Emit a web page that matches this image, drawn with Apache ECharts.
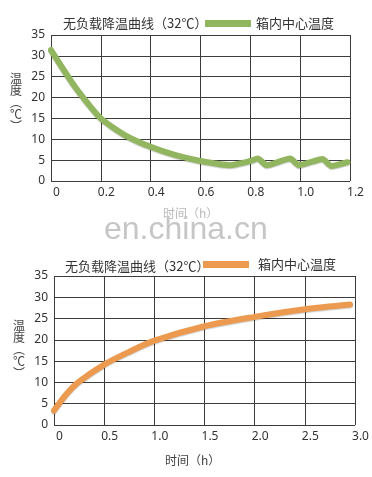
<!DOCTYPE html>
<html><head><meta charset="utf-8">
<script src="https://cdn.jsdelivr.net/npm/echarts@6/dist/echarts.min.js"></script>
<style>html,body{margin:0;padding:0;background:#fff}#c{width:372px;height:477px}</style>
</head><body><div id="c"></div>
<script>
var titleText = '无负载降温曲线（32℃）';
var seriesName = '箱内中心温度';
var yName = '温\n度\n︵\n℃\n︶';
var xName = '时间（h）';
var watermark = 'en.china.cn';

// chart 1: cooling (time h, temperature ℃)
var coolX = [0, 0.1, 0.2, 0.3, 0.4, 0.5, 0.6, 0.72, 0.8, 0.83, 0.865, 0.96, 0.995, 1.09, 1.125, 1.19];
var coolY = [31.4, 22.3, 15, 10.9, 8.2, 6.2, 4.8, 3.8, 4.8, 5.4, 3.8, 5.4, 3.8, 5.3, 3.6, 4.5];
// chart 2: warming
var warmX = [0, 0.125, 0.25, 0.5, 0.75, 1.0, 1.5, 2.0, 2.5, 2.95];
var warmY = [3.4, 7.3, 10.2, 14.2, 17.2, 19.8, 23.2, 25.4, 27.2, 28.3];

var xTicks1 = [0, 1.2, 0.2];
var xTicks2 = [0, 3.0, 0.5];
var yTicks = [0, 35, 5];

function pairs(xs, ys){ return xs.map(function(x,i){return [x, ys[i]];}); }
var numFont = 'Noto Sans';
var cjk = '"Noto Sans CJK SC"';
var gridCol = '#3c3c3c';
var fmt = function(v){ return v === 0 ? '0' : v.toFixed(1); };

function xAxis(idx, t){
  return {type:'value', gridIndex:idx, min:t[0], max:t[1], interval:t[2],
    axisLine:{show:false}, axisTick:{show:false},
    splitLine:{show:true, lineStyle:{color:gridCol, width:1}},
    axisLabel:{formatter:fmt, color:'#333', fontSize:12, fontFamily:numFont, margin:6, padding:[0,0,0,11]}};
}
function yAxis(idx){
  return {type:'value', gridIndex:idx, min:yTicks[0], max:yTicks[1], interval:yTicks[2],
    axisLine:{show:false}, axisTick:{show:false},
    splitLine:{show:true, lineStyle:{color:gridCol, width:1}},
    axisLabel:{color:'#333', fontSize:12, fontFamily:numFont, margin:6}};
}
var shadow = {shadowColor:'rgba(0,0,0,0.2)', shadowBlur:1, shadowOffsetY:1};

var chart = echarts.init(document.getElementById('c'), null, {renderer:'canvas'});
chart.setOption({
  animation:false,
  backgroundColor:'#fff',
  title:[
    {text:titleText, left:58, top:12, textStyle:{fontSize:13, fontWeight:'normal', color:'#333', fontFamily:cjk}},
    {text:titleText, left:60, top:255, textStyle:{fontSize:13, fontWeight:'normal', color:'#333', fontFamily:cjk}},
    {text:yName, left:5, top:67, textStyle:{fontSize:12, fontWeight:'normal', color:'#444', fontFamily:cjk, lineHeight:12}},
    {text:yName, left:8, top:314, textStyle:{fontSize:12, fontWeight:'normal', color:'#444', fontFamily:cjk, lineHeight:12}},
    {text:xName, left:158, top:202, textStyle:{fontSize:12, fontWeight:'normal', color:'#bbb', fontFamily:cjk}},
    {text:xName, left:160, top:449, textStyle:{fontSize:12, fontWeight:'normal', color:'#444', fontFamily:cjk}}
  ],
  legend:[
    {data:[seriesName], left:200, top:12, icon:'rect', itemWidth:46, itemHeight:7, itemGap:0,
      textStyle:{fontSize:13, color:'#333', fontFamily:cjk}, selectedMode:false},
  ],
  graphic:[
    {type:'text', left:104, top:214, z:100, style:{text:watermark, fontSize:32, fontFamily:'Liberation Sans', fill:'#c6c6c6'}},
    {type:'group', left:203, top:258, children:[
      {type:'rect', shape:{x:0,y:0,width:46,height:7}, style:{fill:'#eb9a4f'}},
      {type:'text', x:55, y:-3, style:{text:seriesName, fontSize:13, fontFamily:cjk, fill:'#333'}}
    ]}
  ],
  grid:[
    {left:51, top:35, width:299, height:146},
    {left:54, top:276, width:301, height:149}
  ],
  xAxis:[xAxis(0, xTicks1), xAxis(1, xTicks2)],
  yAxis:[yAxis(0), yAxis(1)],
  series:[
    {name:seriesName, type:'line', xAxisIndex:0, yAxisIndex:0, data:pairs(coolX, coolY),
      showSymbol:false, smooth:0.2, color:'#92b65f',
      lineStyle:Object.assign({width:6, color:'#92b65f', join:'round', cap:'round'}, shadow)},
    {name:'warm', type:'line', xAxisIndex:1, yAxisIndex:1, data:pairs(warmX, warmY),
      showSymbol:false, smooth:0.3, color:'#eb9a4f',
      lineStyle:Object.assign({width:6, color:'#eb9a4f', join:'round', cap:'round'}, shadow)}
  ]
});
</script></body></html>
